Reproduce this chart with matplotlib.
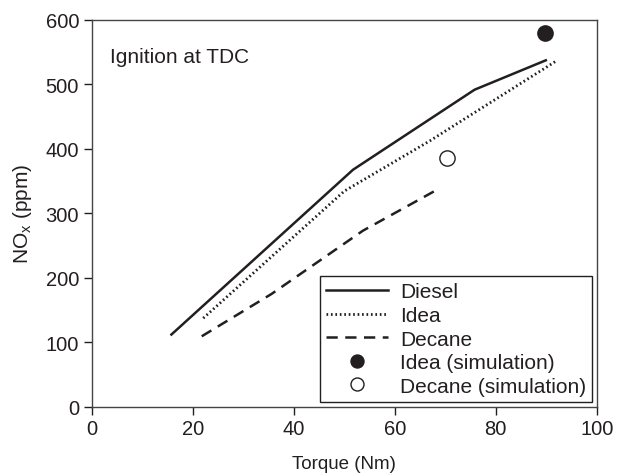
import matplotlib
matplotlib.use("Agg")
import matplotlib.pyplot as plt

plt.rcParams['font.family'] = ['Liberation Sans', 'DejaVu Sans']
plt.rcParams['font.size'] = 14

diesel_x = [15.8, 51.75, 75.8, 89.9]
diesel_y = [111.6, 367.3, 491.4, 537.0]
idea_x = [22.1, 50.0, 67.0, 75.0, 91.85]
idea_y = [137.0, 334.0, 412.3, 452.0, 535.4]
decane_x = [21.8, 35.6, 53.7, 67.8]
decane_y = [108.9, 174.5, 272.7, 333.8]
idea_sim_x = [89.7]
idea_sim_y = [579.3]
decane_sim_x = [70.3]
decane_sim_y = [385.5]

ink = '#231f20'

fig = plt.figure(figsize=(6.23, 4.77), dpi=100)
ax = fig.add_axes([0.147, 0.1457, 0.811, 0.8109])

ax.plot(diesel_x, diesel_y, color=ink, lw=1.8, ls='-', label='Diesel')
ax.plot(idea_x, idea_y, color=ink, lw=2.0, ls=(0, (0.6, 1.0)), label='Idea')
ax.plot(decane_x, decane_y, color=ink, lw=1.8, ls=(0, (4.5, 3.0)), label='Decane')
ax.plot(idea_sim_x, idea_sim_y, 'o', color=ink, ms=11, ls='none', label='Idea (simulation)')
ax.plot(decane_sim_x, decane_sim_y, 'o', mfc='white', mec=ink, mew=1.0, ms=11, ls='none',
        label='Decane (simulation)')

ax.set_xlim(0, 100)
ax.set_ylim(0, 600)
ax.set_xticks([0, 20, 40, 60, 80, 100])
ax.set_yticks([0, 100, 200, 300, 400, 500, 600])
ax.tick_params(direction='out', length=6, width=1, color=ink, labelcolor=ink, pad=3,
               labelsize=14.5)
for s in ax.spines.values():
    s.set_color('#444444')
    s.set_linewidth(1.0)

ax.set_xlabel('Torque (Nm)', color=ink, fontsize=13.5, labelpad=12)
ax.set_ylabel('NO$_\\mathregular{x}$ (ppm)', color=ink, fontsize=15, labelpad=8)

ax.text(3.6, 543, 'Ignition at TDC', color=ink, fontsize=15, va='center', ha='left')

leg = ax.legend(loc='lower right', frameon=True, fancybox=False, shadow=False,
                handlelength=3.0, borderpad=0.3, labelspacing=0.22, handletextpad=0.55,
                borderaxespad=0.22, fontsize=15, markerscale=0.85)
leg.get_frame().set_edgecolor(ink)
leg.get_frame().set_linewidth(1.0)
leg.get_frame().set_alpha(1)
for t in leg.get_texts():
    t.set_color(ink)

fig.savefig('out.png', dpi=100)
